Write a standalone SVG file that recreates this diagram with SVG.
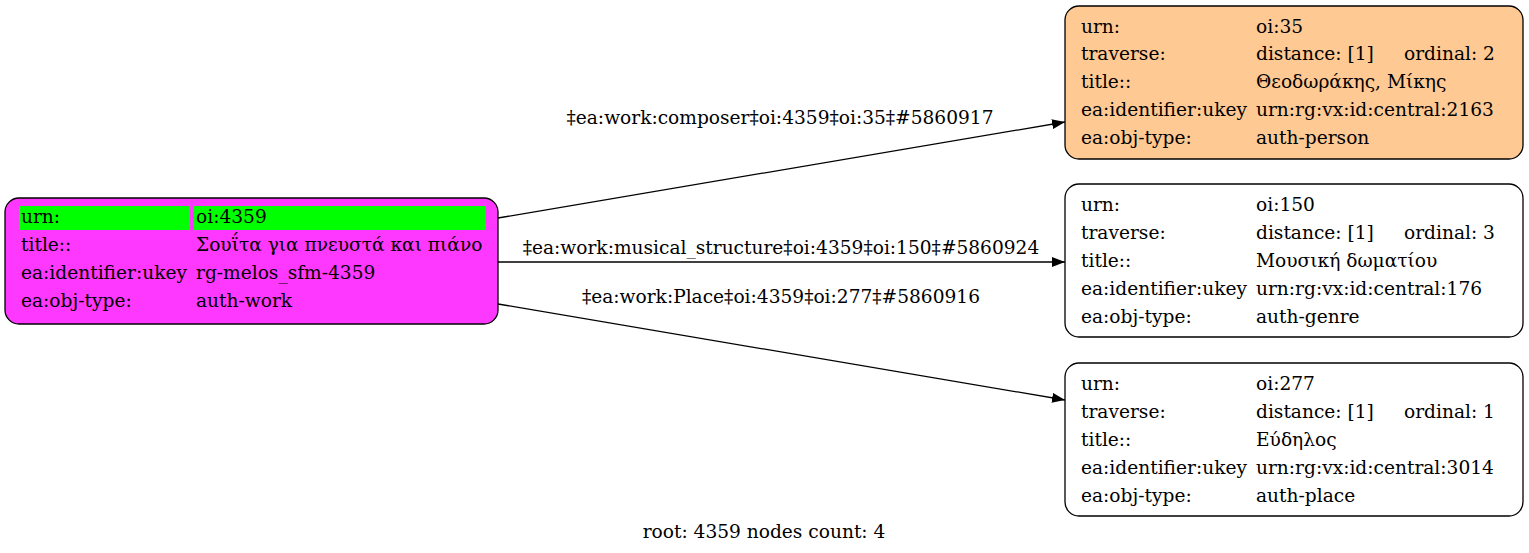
<svg xmlns="http://www.w3.org/2000/svg" width="1529" height="553" viewBox="0 0 1529 553">
<style>
text{font-family:"DejaVu Serif",serif;font-size:18.6px;fill:#000}
.box{stroke:#000;stroke-width:1.3}
.edge{stroke:#000;stroke-width:1.3;fill:none}
</style>
<defs>
<marker id="arr" markerWidth="14" markerHeight="10" refX="13" refY="5" orient="auto" markerUnits="userSpaceOnUse">
<path d="M0,0 L13,5 L0,10 Z" fill="#000"/>
</marker>
</defs>
<rect width="1529" height="553" fill="#fff"/>
<g id="edges">
<path class="edge" d="M498,218 L1065,122" marker-end="url(#arr)"/>
<path class="edge" d="M498,262 L1065,262" marker-end="url(#arr)"/>
<path class="edge" d="M498,304 L1065,400" marker-end="url(#arr)"/>
<text x="780" y="124" text-anchor="middle">‡ea:work:composer‡oi:4359‡oi:35‡#5860917</text>
<text x="781" y="254" text-anchor="middle">‡ea:work:musical_structure‡oi:4359‡oi:150‡#5860924</text>
<text x="781" y="303" text-anchor="middle">‡ea:work:Place‡oi:4359‡oi:277‡#5860916</text>
</g>
<g id="n4359">
<rect class="box" x="5" y="198" width="493" height="126" rx="14" fill="#ff38ff"/>
<rect x="19" y="206" width="171" height="24" fill="#00ff00"/>
<rect x="194" y="206" width="292" height="24" fill="#00ff00"/>
<text x="21" y="223">urn:</text><text x="196" y="223">oi:4359</text>
<text x="21" y="251">title::</text><text x="196" y="251">Σουΐτα για πνευστά και πιάνο</text>
<text x="21" y="279">ea:identifier:ukey</text><text x="196" y="279">rg-melos_sfm-4359</text>
<text x="21" y="307">ea:obj-type:</text><text x="196" y="307">auth-work</text>
</g>
<g id="n35">
<rect class="box" x="1065" y="6" width="458" height="153" rx="14" fill="#ffc994"/>
<text x="1081" y="33">urn:</text><text x="1256" y="33">oi:35</text>
<text x="1081" y="60">traverse:</text><text x="1256" y="60">distance: [1]</text><text x="1404" y="60">ordinal: 2</text>
<text x="1081" y="88">title::</text><text x="1256" y="88">Θεοδωράκης, Μίκης</text>
<text x="1081" y="116">ea:identifier:ukey</text><text x="1256" y="116">urn:rg:vx:id:central:2163</text>
<text x="1081" y="144">ea:obj-type:</text><text x="1256" y="144">auth-person</text>
</g>
<g id="n150">
<rect class="box" x="1065" y="184" width="458" height="153" rx="14" fill="#fff"/>
<text x="1081" y="211">urn:</text><text x="1256" y="211">oi:150</text>
<text x="1081" y="239">traverse:</text><text x="1256" y="239">distance: [1]</text><text x="1404" y="239">ordinal: 3</text>
<text x="1081" y="267">title::</text><text x="1256" y="267">Μουσική δωματίου</text>
<text x="1081" y="295">ea:identifier:ukey</text><text x="1256" y="295">urn:rg:vx:id:central:176</text>
<text x="1081" y="323">ea:obj-type:</text><text x="1256" y="323">auth-genre</text>
</g>
<g id="n277">
<rect class="box" x="1065" y="363" width="458" height="153" rx="14" fill="#fff"/>
<text x="1081" y="390">urn:</text><text x="1256" y="390">oi:277</text>
<text x="1081" y="418">traverse:</text><text x="1256" y="418">distance: [1]</text><text x="1404" y="418">ordinal: 1</text>
<text x="1081" y="446">title::</text><text x="1256" y="446">Εύδηλος</text>
<text x="1081" y="474">ea:identifier:ukey</text><text x="1256" y="474">urn:rg:vx:id:central:3014</text>
<text x="1081" y="502">ea:obj-type:</text><text x="1256" y="502">auth-place</text>
</g>
<text x="764" y="538" text-anchor="middle">root: 4359 nodes count: 4</text>
</svg>
